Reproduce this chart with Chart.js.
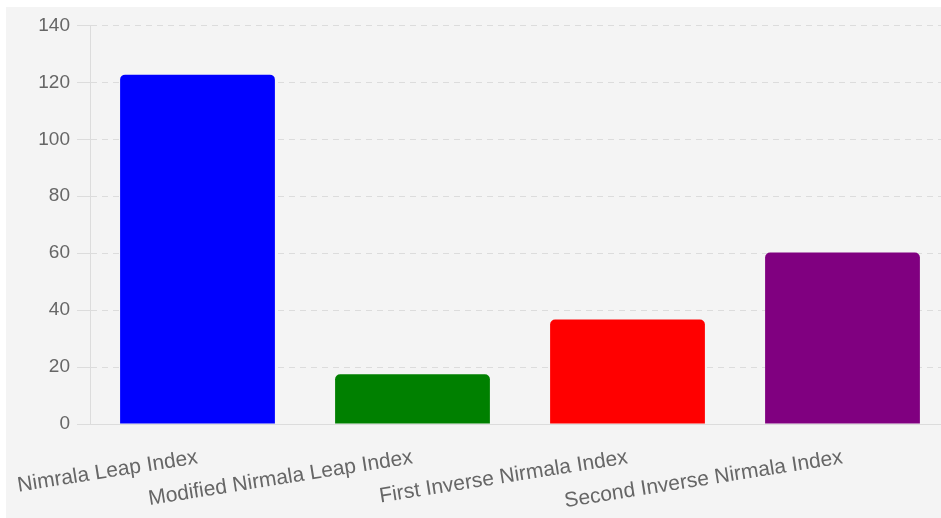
<!DOCTYPE html>
<html>
<head>
<meta charset="utf-8">
<script src="https://cdn.jsdelivr.net/npm/chart.js@4.4.1/dist/chart.umd.min.js"></script>
<style>
  html, body {
    margin: 0;
    padding: 0;
    background: #ffffff;
    overflow: hidden;
  }
  #wrap {
    position: absolute;
    left: 6px;
    top: 7px;
    width: 956px;
    height: 511px;
    background: #f4f4f4;
  }
</style>
</head>
<body>
<div id="wrap">
  <canvas id="chart" width="956" height="511"></canvas>
</div>
<script>
const indexNames = [
  'Nimrala Leap Index',
  'Modified Nirmala Leap Index',
  'First Inverse Nirmala Index',
  'Second Inverse Nirmala Index',
];
const indexValues = [122.7, 17.5, 36.7, 60.2];
const barColors = ['#0000ff', '#008000', '#ff0000', '#800080'];
const yTicks = [0, 20, 40, 60, 80, 100, 120, 140];

const labelColor = '#666666';
const gridColor = '#dcdcdc';

new Chart(document.getElementById('chart'), {
  type: 'bar',
  data: {
    labels: indexNames,
    datasets: [
      {
        data: indexValues,
        backgroundColor: barColors,
        borderRadius: 5,
      },
    ],
  },
  options: {
    responsive: false,
    animation: false,
    devicePixelRatio: 1,
    layout: {
      padding: { top: 12, right: 12, bottom: 0, left: 0 },
    },
    plugins: {
      legend: { display: false },
      tooltip: { enabled: false },
    },
    scales: {
      x: {
        grid: {
          display: false,
        },
        border: {
          color: gridColor,
        },
        ticks: {
          color: labelColor,
          font: { family: 'Liberation Sans, Arial', size: 21 },
          minRotation: 9,
          maxRotation: 9,
          padding: 13,
        },
        afterFit: (axis) => {
          axis.height = 94;
          // first label may hang over the y axis, keep the plot where it is
          axis.paddingLeft = 0;
          axis.paddingRight = 0;
        },
      },
      y: {
        min: yTicks[0],
        max: yTicks[yTicks.length - 1],
        afterBuildTicks: (axis) => {
          axis.ticks = yTicks.map((v) => ({ value: v }));
        },
        grid: {
          color: gridColor,
          tickLength: 13,
        },
        border: {
          color: gridColor,
          dash: [6, 5],
        },
        ticks: {
          color: labelColor,
          font: { family: 'Liberation Sans, Arial', size: 19 },
          padding: 7,
        },
        afterFit: (axis) => {
          axis.width = 84;
        },
      },
    },
  },
});
</script>
</body>
</html>
